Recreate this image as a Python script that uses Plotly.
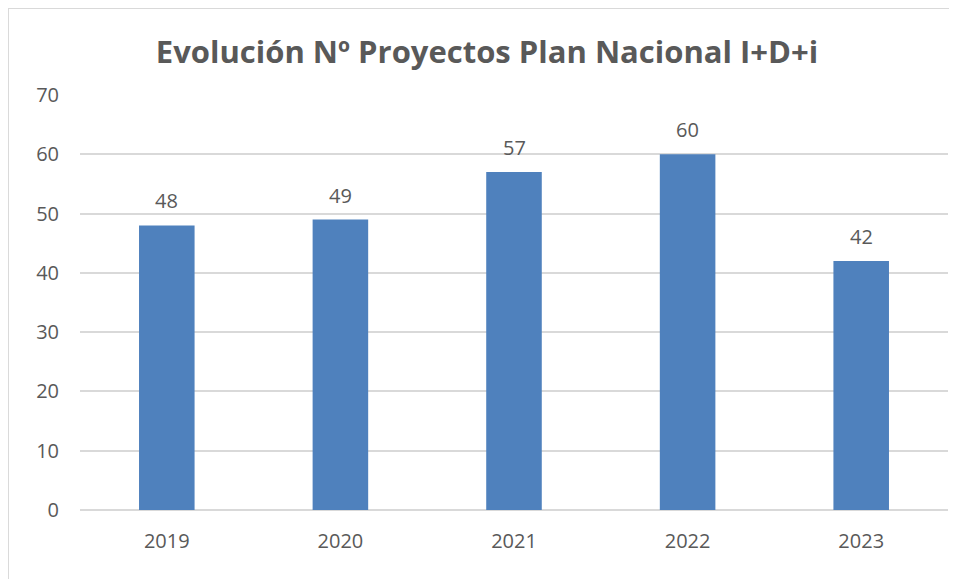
import plotly.graph_objects as go

years = ["2019", "2020", "2021", "2022", "2023"]
proyectos = [48, 49, 57, 60, 42]
y_ticks = [0, 10, 20, 30, 40, 50, 60, 70]

TEXT_GREY = "#595959"
GRID = "#D9D9D9"
BAR_BLUE = "#4F81BD"
FONT = "Open Sans, Liberation Sans, sans-serif"

fig = go.Figure()
fig.add_trace(
    go.Bar(
        x=years,
        y=proyectos,
        marker=dict(color=BAR_BLUE, line=dict(width=0)),
        width=0.32,
        hoverinfo="x+y",
    )
)

# data labels above bars (category index positions)
for i, v in enumerate(proyectos):
    fig.add_annotation(
        x=i, y=v, text=str(v), showarrow=False,
        yanchor="bottom", yshift=9,
        font=dict(family=FONT, size=20, color=TEXT_GREY),
    )

# outer chart frame (cropped on right and bottom in the reference)
fig.add_shape(
    type="rect", xref="paper", yref="paper",
    x0=-0.083, x1=1.03, y0=-0.25, y1=1.2096,
    line=dict(color="#D9D9D9", width=2), fillcolor="rgba(0,0,0,0)", layer="below",
)

fig.update_layout(
    width=957,
    height=579,
    title=dict(
        text="<b>Evolución Nº Proyectos Plan Nacional I+D+i</b>",
        x=0.5005, xanchor="center", y=0.924, yanchor="middle",
        font=dict(family=FONT, size=31, color=TEXT_GREY),
    ),
    plot_bgcolor="white",
    paper_bgcolor="white",
    margin=dict(l=72, r=17, t=87, b=77),
    showlegend=False,
    font=dict(family=FONT, size=20, color=TEXT_GREY),
)
fig.update_xaxes(
    type="category", range=[-0.5, len(years) - 0.5], showgrid=False, showline=False,
    ticks="", ticklabelstandoff=17, tickfont=dict(size=20, color=TEXT_GREY),
)
fig.update_yaxes(
    range=[0, 70], tickvals=y_ticks, showgrid=True, gridcolor=GRID, gridwidth=1.5,
    zeroline=True, zerolinecolor=GRID, zerolinewidth=1.5, showline=False,
    ticks="", ticklabelstandoff=20, tickfont=dict(size=20, color=TEXT_GREY),
)

fig.write_html("out.html")
